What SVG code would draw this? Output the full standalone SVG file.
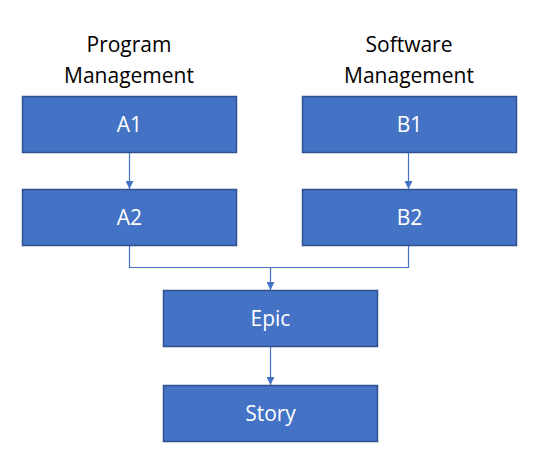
<svg xmlns="http://www.w3.org/2000/svg" width="538" height="467" viewBox="0 0 538 467">
<defs>
<style>
.box{fill:#4472C4;stroke:#2F528F;stroke-width:1.5}
.lbl{font-family:"Open Sans","Noto Sans",sans-serif;font-size:21px;fill:#FFFFFF;text-anchor:middle}
.hdr{font-family:"Open Sans","Noto Sans",sans-serif;font-size:21px;fill:#000000;text-anchor:middle}
.con{fill:none;stroke:#4472C4;stroke-width:1.2}
</style>
<marker id="arr" viewBox="0 0 10 10" refX="10" refY="5" markerWidth="8" markerHeight="8" markerUnits="userSpaceOnUse" orient="auto">
<path d="M0,0 L10,5 L0,10 Z" fill="#4472C4"/>
</marker>
</defs>
<rect width="538" height="467" fill="#FFFFFF"/>
<g id="hdr-program">
<text class="hdr" x="129" y="52">Program</text>
<text class="hdr" x="129" y="83">Management</text>
</g>
<g id="hdr-software">
<text class="hdr" x="409" y="52">Software</text>
<text class="hdr" x="409" y="83">Management</text>
</g>
<g id="connectors">
<path class="con" d="M129.5,152.5 V189" marker-end="url(#arr)"/>
<path class="con" d="M408.5,152.5 V189" marker-end="url(#arr)"/>
<path class="con" d="M129.5,245.5 V267.5 H408.5 V245.5"/>
<path class="con" d="M270.5,267.5 V290" marker-end="url(#arr)"/>
<path class="con" d="M270.5,346.5 V385" marker-end="url(#arr)"/>
</g>
<g id="A1">
<rect class="box" x="22.5" y="96.5" width="214" height="56"/>
<text class="lbl" x="129.5" y="132">A1</text>
</g>
<g id="A2">
<rect class="box" x="22.5" y="189.5" width="214" height="56"/>
<text class="lbl" x="129.5" y="225">A2</text>
</g>
<g id="B1">
<rect class="box" x="302.5" y="96.5" width="214" height="56"/>
<text class="lbl" x="409.5" y="132">B1</text>
</g>
<g id="B2">
<rect class="box" x="302.5" y="189.5" width="214" height="56"/>
<text class="lbl" x="409.5" y="225">B2</text>
</g>
<g id="Epic">
<rect class="box" x="163.5" y="290.5" width="214" height="56"/>
<text class="lbl" x="270.5" y="326">Epic</text>
</g>
<g id="Story">
<rect class="box" x="163.5" y="385.5" width="214" height="56"/>
<text class="lbl" x="270.5" y="421">Story</text>
</g>
</svg>
